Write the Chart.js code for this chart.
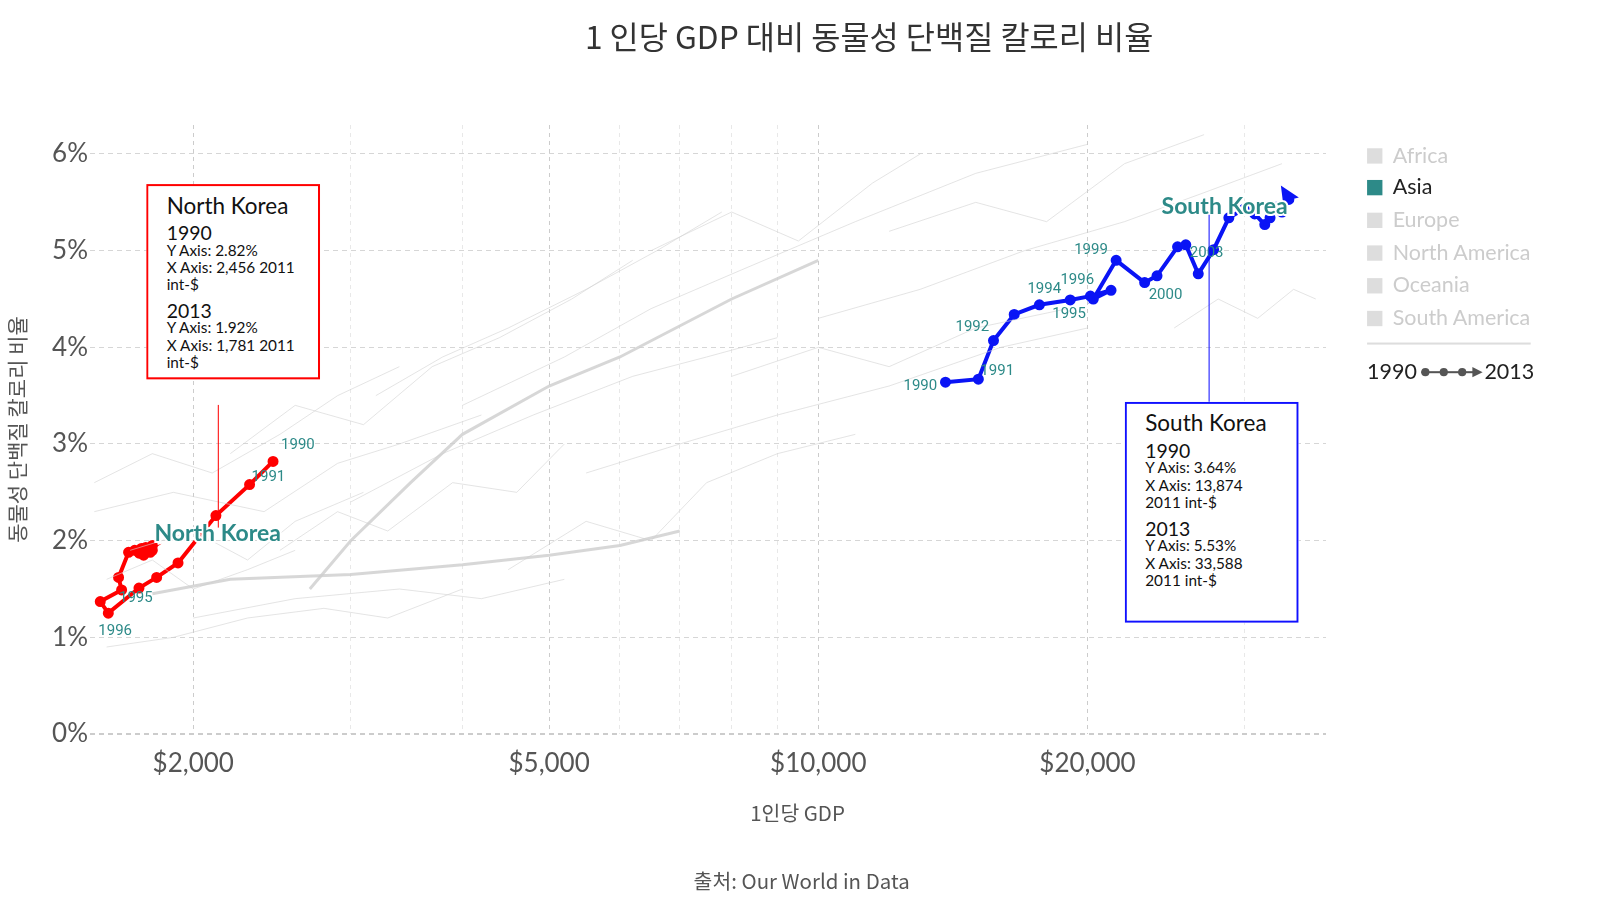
<!DOCTYPE html>
<html><head><meta charset="utf-8">
<script src="https://cdn.jsdelivr.net/npm/chart.js@4"></script>
<style>
body{margin:0;background:#fff;font-family:Lato,"Noto Sans CJK KR",sans-serif;}
#wrap{position:relative;width:1600px;height:900px;overflow:hidden;}
canvas{position:absolute;left:0;top:0;}
#ov{position:absolute;left:0;top:0;width:1565px;height:880px;transform:scale(1.0225);transform-origin:0 0;}
.t{position:absolute;white-space:nowrap;}
.box{position:absolute;background:#fff;padding:8px 6px 6px 18px;font-size:15px;line-height:17px;color:#111;}
.box b{font-weight:normal;font-size:22px;display:block;margin:2px 0 10px;}
.box i{font-style:normal;font-size:19px;display:block;margin-top:8px;}
.lg{position:absolute;left:1337px;font-size:21px;color:#ccc;}
.lg span{display:inline-block;width:15px;height:15px;background:#ddd;margin-right:10px;vertical-align:-1px;}
.ar{display:inline-block;position:relative;width:56px;height:2px;background:#555;vertical-align:6px;margin:0 6px 0 4px;}
.ar em{position:absolute;top:-3px;width:8px;height:8px;border-radius:4px;background:#555;}
</style></head><body>
<div id="wrap">
<canvas id="c" width="1600" height="900"></canvas>
<div id="ov">
<div class="t" style="left:0;width:1700px;text-align:center;top:12px;font-size:31px;color:#333;font-family:'Noto Sans CJK KR'">1 인당 GDP 대비 동물성 단백질 칼로리 비율</div>
<div class="t" style="left:0;width:1560px;text-align:center;top:780px;font-size:20px;color:#555;font-family:'Noto Sans CJK KR'">1인당 GDP</div>
<div class="t" style="left:0;width:1568px;text-align:center;top:846px;font-size:20px;color:#555;font-family:'Noto Sans CJK KR'">출처: Our World in Data</div>
<div class="lg" style="top:138px"><span></span>Africa</div>
<div class="lg" style="top:169px;color:#222"><span style="background:#2d8a88"></span>Asia</div>
<div class="lg" style="top:201px"><span></span>Europe</div>
<div class="lg" style="top:233px"><span></span>North America</div>
<div class="lg" style="top:265px"><span></span>Oceania</div>
<div class="lg" style="top:297px"><span></span>South America</div>
<div style="position:absolute;left:1337px;top:335px;width:160px;border-top:2px solid #ddd"></div>
<div class="lg" style="top:350px;color:#222">1990<b class="ar"><em style="left:0"></em><em style="left:18px"></em><em style="left:36px"></em><em style="left:50px;border-radius:0;width:0;height:0;background:none;border-left:10px solid #555;border-top:5px solid transparent;border-bottom:5px solid transparent;top:-4px"></em></b>2013</div>
<div class="box" style="left:143px;top:180px;width:142px;border:2px solid red"><b>North Korea</b><i style="margin-top:0">1990</i>Y Axis: 2.82%<br>X Axis: 2,456 2011 int-$<i>2013</i>Y Axis: 1.92%<br>X Axis: 1,781 2011 int-$</div>
<div style="position:absolute;left:213px;top:396px;height:120px;border-left:1.5px solid red"></div>
<div class="box" style="left:1100px;top:393px;width:142px;height:198px;border:2px solid #1010ff"><b>South Korea</b><i style="margin-top:0">1990</i>Y Axis: 3.64%<br>X Axis: 13,874<br>2011 int-$<i>2013</i>Y Axis: 5.53%<br>X Axis: 33,588<br>2011 int-$</div>
<div style="position:absolute;left:1182px;top:210px;height:183px;border-left:1.5px solid #1010ff"></div>
</div>
</div>
<script>
const years = [];
for (let y = 1990; y <= 2013; y++) years.push(y);
const nkGdp = [2456,2312,2120,1923,1820,1739,1607,1574,1663,1650,1693,1720,1750,1770,1800,1790,1760,1780,1740,1760,1790,1800,1770,1781];
const nkPct = [2.82,2.58,2.26,1.77,1.62,1.51,1.25,1.37,1.49,1.62,1.88,1.90,1.92,1.93,1.95,1.88,1.87,1.90,1.87,1.85,1.89,1.90,1.88,1.92];
const skGdp = [13874,15100,15700,16560,17670,19130,20150,21250,20300,21530,23170,23920,25220,25760,26600,27670,28780,29940,30760,31570,32000,32500,33000,33588];
const skPct = [3.64,3.67,4.07,4.34,4.44,4.49,4.53,4.59,4.50,4.90,4.67,4.74,5.04,5.06,4.76,5.01,5.34,5.43,5.38,5.27,5.34,5.45,5.40,5.53];
const nkLabels = {1990:[8,-12],1991:[2,-4],1995:[-20,14],1996:[-10,22]};
const skLabels = {1990:[-42,8],1991:[2,-4],1992:[-38,-10],1994:[-12,-12],1995:[-18,18],1996:[-30,-12],1999:[-42,-6],2000:[4,16],2003:[4,12]};
const grayLines = [
  [[2700,1.5],[3000,2.0],[3500,2.6],[4000,3.1],[5000,3.6],[6000,3.9],[8000,4.5],[10000,4.9]],
  [[1800,1.45],[2200,1.6],[3000,1.65],[4000,1.75],[5000,1.85],[6000,1.95],[7000,2.1]],
  [[1550,2.3],[1900,2.5],[2400,2.3],[2900,2.8],[3400,3.0],[4200,3.3]],
  [[1600,0.9],[1900,1.0],[2300,1.2],[2800,1.3],[3300,1.2],[4000,1.5]],
  [[3000,2.4],[3800,2.9],[4800,3.3],[6200,3.7],[7500,3.9],[9000,4.1]],
  [[4000,3.4],[5200,3.9],[6500,4.4],[8200,4.8],[11000,5.3],[15000,5.8],[20000,6.1]],
  [[5500,2.7],[7000,3.0],[9000,3.3],[12000,3.6],[16000,4.0],[20000,4.2]],
  [[2500,1.9],[2900,2.3],[3300,2.1],[3900,2.6],[4600,2.5],[5200,3.0]],
  [[10000,4.3],[13000,4.6],[17000,5.0],[22000,5.3],[27000,5.6],[33000,5.9]],
  [[6500,5.0],[8000,5.4],[9500,5.1],[11500,5.7],[13000,6.0]],
  [[1700,1.9],[2000,2.1],[2300,1.8],[2600,2.2],[3100,2.5]],
  [[25000,4.2],[28000,4.5],[31000,4.3],[34000,4.6],[36000,4.5]],
  [[3200,3.5],[3800,3.9],[4500,4.2],[5500,4.6],[6600,5.0],[7800,5.4]],
  [[1600,1.6],[1800,1.8],[2000,1.5],[2300,1.7],[2600,1.9]],
  [[2200,2.9],[2600,3.4],[3100,3.2],[3700,3.8],[4400,4.1],[5300,4.5],[6200,4.9]],
  [[8000,3.7],[10000,4.0],[12000,3.8],[15000,4.2],[19000,4.4]],
  [[4500,1.7],[5500,2.2],[6500,2.0],[7500,2.6],[9000,2.9],[11000,3.1]],
  [[2000,1.2],[2600,1.4],[3400,1.5],[4200,1.4],[5200,1.6]],
  [[12000,5.2],[15000,5.5],[18000,5.3],[22000,5.9],[27000,6.2]],
  [[1550,2.6],[1800,2.9],[2100,2.7],[2500,3.1],[2900,3.5],[3400,3.8]]
];
const xTicks = [2000,3000,4000,5000,6000,7000,8000,9000,10000,20000,30000];
const xMajor = [2000,5000,10000,20000];
const K = 1.0225;

const toPts = (xs, ys) => xs.map((v, i) => ({x: v, y: ys[i]}));
const datasets = grayLines.map((l, i) => ({
  data: l.map(p => ({x: p[0], y: p[1]})),
  borderColor: i < 2 ? "rgba(205,205,205,0.8)" : "rgba(210,210,210,0.6)",
  borderWidth: i < 2 ? 3 : 1, pointRadius: 0, tension: 0
}));
datasets.push({label: "nk", data: toPts(nkGdp, nkPct), borderColor: "#f00", backgroundColor: "#f00", borderWidth: 4, pointRadius: 3.5});
datasets.push({label: "sk", data: toPts(skGdp, skPct), borderColor: "#0a14f5", backgroundColor: "#0a14f5", borderWidth: 4, pointRadius: 3.5});

const labelPlugin = {
  id: "labels",
  afterDatasetsDraw(chart) {
    const ctx = chart.ctx, xs = chart.scales.x, ys = chart.scales.y;
    ctx.save();
    ctx.font = "15px Roboto, sans-serif";
    ctx.fillStyle = "#2d8a88";
    const put = (gdp, pct, map) => {
      years.forEach((yr, i) => {
        const o = map[yr];
        if (!o) return;
        ctx.fillText(String(yr), xs.getPixelForValue(gdp[i]) + o[0], ys.getPixelForValue(pct[i]) + o[1]);
      });
    };
    put(nkGdp, nkPct, nkLabels);
    put(skGdp, skPct, skLabels);
    const n = skGdp.length - 1;
    const x1 = xs.getPixelForValue(skGdp[n]), y1 = ys.getPixelForValue(skPct[n]);
    ctx.fillStyle = "#0a14f5";
    ctx.beginPath();
    ctx.moveTo(x1 - 8, y1 - 14); ctx.lineTo(x1 + 10, y1 - 2); ctx.lineTo(x1 - 6, y1 + 2); ctx.fill();
    ctx.font = "bold 23px Lato, sans-serif";
    ctx.lineWidth = 4; ctx.strokeStyle = "#fff"; ctx.fillStyle = "#2d8a88";
    ctx.strokeText("North Korea", 151 * K, 529 * K); ctx.fillText("North Korea", 151 * K, 529 * K);
    ctx.strokeText("South Korea", 1136 * K, 209 * K); ctx.fillText("South Korea", 1136 * K, 209 * K);
    ctx.restore();
  }
};

new Chart(document.getElementById("c"), {
  type: "line",
  data: {datasets},
  plugins: [labelPlugin],
  options: {
    responsive: false, animation: false,
    layout: {padding: {left: 0, right: 274, top: 125, bottom: 78}},
    plugins: {legend: {display: false}, tooltip: {enabled: false}},
    scales: {
      x: {
        type: "logarithmic", min: 1533, max: 36960,
        afterBuildTicks: s => { s.ticks = xTicks.map(v => ({value: v})); },
        afterFit: s => { s.height = 88; },
        ticks: {autoSkip: false, maxRotation: 0, padding: 14, color: "#555", font: {size: 26, family: "Lato"},
          callback: v => xMajor.includes(v) ? "$" + v.toLocaleString("en-US") : ""},
        grid: {color: c => xMajor.includes(c.tick && c.tick.value) ? "#ccc" : "#e8e8e8", drawTicks: false},
        border: {dash: [4, 4], display: false},
        title: {display: false}
      },
      y: {
        min: 0, max: 6.3,
        afterBuildTicks: s => { s.ticks = [0,1,2,3,4,5,6].map(v => ({value: v})); },
        afterFit: s => { s.width = 90; },
        ticks: {padding: 2, color: "#555", font: {size: 26, family: "Lato"}, callback: v => v + "%"},
        grid: {color: c => c.tick && c.tick.value === 0 ? "#ccc" : "#d6d6d6", lineWidth: c => c.tick && c.tick.value === 0 ? 2 : 1, drawTicks: false},
        border: {dash: [5, 4], display: false},
        title: {display: true, text: "동물성 단백질 칼로리 비율", color: "#555", font: {size: 21, family: "Noto Sans CJK KR"}, padding: {bottom: 0}}
      }
    }
  }
});
</script>
</body></html>
